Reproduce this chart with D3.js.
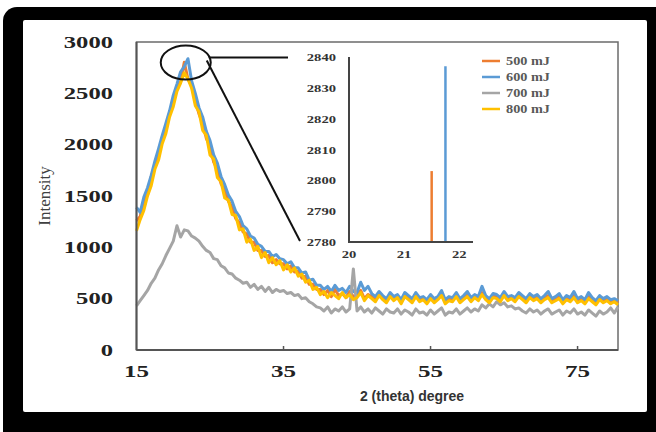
<!DOCTYPE html>
<html>
<head>
<meta charset="utf-8">
<script src="https://cdn.jsdelivr.net/npm/d3@7"></script>
<style>
  body { margin: 0; background: #fff; }
  svg { display: block; }
</style>
</head>
<body>
<div id="chart"></div>
<script>
// series, one value every 0.5 degree from 15 to 80.5
const seriesNames = ["500 mJ", "600 mJ", "700 mJ", "800 mJ"];
const seriesColors = ["#ED7D31", "#5B9BD5", "#A5A5A5", "#FFC000"];
const angleStart = 15, angleStep = 0.5;

const int500 = [
  1260, 1300, 1450, 1510, 1690, 1780, 1900, 2070, 2140, 2310,
  2400, 2560, 2610, 2803, 2640, 2570, 2430, 2300, 2210, 2060,
  1990, 1830, 1760, 1620, 1560, 1450, 1390, 1280, 1240, 1150,
  1130, 1050, 1050, 970, 970, 910, 920, 850, 880, 840,
  840, 790, 820, 760, 770, 700, 720, 640, 640, 590,
  590, 540, 580, 520, 590, 530, 550, 510, 570, 520,
  530, 580, 500, 540, 520, 490, 550, 510, 480, 540,
  500, 520, 470, 530, 510, 480, 540, 490, 500, 470,
  520, 480, 500, 540, 470, 500, 490, 530, 480, 510,
  540, 490, 520, 500, 560, 510, 480, 530, 520, 490,
  550, 500, 510, 490, 540, 510, 480, 530, 500, 520,
  480, 510, 530, 480, 500, 520, 470, 510, 490, 530,
  480, 500, 470, 520, 490, 460, 510, 480, 500, 470,
  490, 460
];
const int600 = [
  1390, 1340, 1490, 1580, 1700, 1840, 1960, 2090, 2210, 2330,
  2480, 2590, 2710, 2760, 2837, 2620, 2500, 2360, 2270, 2130,
  2040, 1900, 1820, 1690, 1610, 1510, 1450, 1350, 1300, 1210,
  1180, 1110, 1090, 1030, 1010, 960, 960, 910, 930, 890,
  880, 840, 860, 800, 800, 750, 760, 680, 690, 630,
  630, 590, 620, 570, 630, 580, 600, 560, 620, 570,
  560, 660, 580, 620, 550, 520, 570, 530, 500, 560,
  520, 540, 490, 560, 530, 500, 560, 510, 520, 490,
  540, 500, 520, 580, 490, 520, 510, 560, 500, 530,
  570, 510, 540, 520, 620, 530, 500, 550, 540, 510,
  570, 520, 530, 510, 560, 530, 500, 550, 520, 540,
  500, 530, 570, 500, 520, 550, 490, 530, 510, 570,
  500, 520, 490, 560, 510, 480, 530, 500, 520, 490,
  500, 480
];
const int700 = [
  430, 480, 530, 580, 650, 700, 780, 840, 920, 990,
  1060, 1210, 1100, 1170, 1160, 1110, 1090, 1060, 1010, 970,
  950, 890, 880, 820, 800, 750, 740, 700, 680, 650,
  660, 610, 640, 590, 620, 570, 610, 560, 590, 570,
  580, 550, 560, 530, 540, 500, 510, 470, 450, 420,
  410, 380, 420, 360, 400, 380, 420, 370, 400, 790,
  380, 420, 370, 400, 360, 410, 380, 350, 400, 370,
  360, 400, 350, 390, 370, 340, 400, 360, 370, 340,
  390, 350, 380, 410, 340, 370, 360, 400, 350, 380,
  410, 370, 400, 380, 440, 410, 450, 420, 470, 440,
  460, 420, 430, 400, 410, 380, 360, 400, 370, 390,
  350, 380, 400, 350, 370, 390, 340, 380, 360, 400,
  350, 370, 340, 390, 360, 330, 380, 350, 370, 410,
  360, 420
];
const int800 = [
  1160, 1270, 1360, 1500, 1600, 1760, 1850, 2010, 2110, 2270,
  2370, 2520, 2600, 2700, 2640, 2550, 2380, 2320, 2140, 2090,
  1900, 1860, 1680, 1640, 1480, 1460, 1320, 1310, 1170, 1180,
  1050, 1080, 970, 1010, 900, 950, 850, 900, 830, 870,
  780, 830, 760, 800, 720, 740, 660, 680, 590, 610,
  540, 570, 510, 560, 530, 500, 560, 510, 540, 490,
  510, 560, 480, 530, 500, 470, 530, 490, 460, 520,
  480, 510, 450, 520, 490, 460, 520, 470, 490, 450,
  500, 460, 490, 530, 450, 480, 470, 520, 460, 490,
  520, 470, 510, 480, 540, 490, 460, 510, 500, 470,
  530, 480, 500, 470, 520, 490, 460, 510, 480, 500,
  460, 490, 510, 460, 480, 500, 450, 490, 470, 510,
  460, 480, 450, 500, 470, 440, 490, 460, 480, 450,
  470, 440
];

const yTicks = [0, 500, 1000, 1500, 2000, 2500, 3000];
const xTicks = [15, 35, 55, 75];

// zoomed view of the peak
const insetSeries = ["500 mJ", "600 mJ"];
const insetAngles = [21.5, 21.75];
const insetPeaks = [2803, 2837];
const insetYTicks = [2780, 2790, 2800, 2810, 2820, 2830, 2840];
const insetXTicks = [20, 21, 22];

const W = 656, H = 432;
const svg = d3.select("#chart").append("svg")
    .attr("width", W)
    .attr("height", H);

// black frame around the picture
svg.append("rect").attr("x", 3).attr("y", 7).attr("width", 680).attr("height", 450)
    .attr("rx", 14).attr("fill", "#000");
svg.append("rect").attr("x", 23).attr("y", 20).attr("width", 624).attr("height", 392)
    .attr("rx", 2).attr("fill", "#fff");

const x = d3.scaleLinear().domain([15, 80.5]).range([136.5, 618]);
const y = d3.scaleLinear().domain([0, 3000]).range([350, 42]);

const serif = "'Liberation Serif', 'Times New Roman', serif";

// stretched bold digits like the picture
function stretch(sel, perChar) {
    sel.attr("textLength", d => String(d).length * perChar)
        .attr("lengthAdjust", "spacingAndGlyphs");
}

// plot border
svg.append("rect")
    .attr("x", x(15)).attr("y", y(3000))
    .attr("width", x(80.5) - x(15)).attr("height", y(0) - y(3000))
    .attr("fill", "none").attr("stroke", "#6b6b6b").attr("stroke-width", 1.5);

// series lines
const angles = int500.map((d, i) => angleStart + i * angleStep);
const allSeries = [int500, int600, int700, int800];
const line = d3.line()
    .x((d, i) => x(angles[i]))
    .y(d => y(d));

svg.append("g").selectAll("path")
    .data(allSeries)
    .enter().append("path")
    .attr("d", d => line(d))
    .attr("fill", "none")
    .attr("stroke", (d, i) => seriesColors[i])
    .attr("stroke-width", 3)
    .attr("stroke-linejoin", "round");

// axes lines + ticks
svg.append("line")
    .attr("x1", x(15)).attr("x2", x(80.5)).attr("y1", y(0)).attr("y2", y(0))
    .attr("stroke", "#555").attr("stroke-width", 2);
svg.append("line")
    .attr("x1", x(15)).attr("x2", x(15)).attr("y1", y(0)).attr("y2", y(3000))
    .attr("stroke", "#555").attr("stroke-width", 2);

svg.append("g").selectAll("line")
    .data(xTicks.slice(1))
    .enter().append("line")
    .attr("x1", d => x(d)).attr("x2", d => x(d))
    .attr("y1", y(0)).attr("y2", y(0) - 4)
    .attr("stroke", "#555").attr("stroke-width", 1.5);

svg.append("g").selectAll("text")
    .data(xTicks)
    .enter().append("text")
    .attr("x", d => x(d))
    .attr("y", 377)
    .attr("text-anchor", "middle")
    .attr("font-family", serif)
    .attr("font-weight", "bold")
    .attr("font-size", 16)
    .attr("fill", "#222")
    .text(d => d)
    .call(stretch, 12.5);

svg.append("g").selectAll("text")
    .data(yTicks)
    .enter().append("text")
    .attr("x", 113)
    .attr("y", d => y(d) + 5.5)
    .attr("text-anchor", "end")
    .attr("font-family", serif)
    .attr("font-weight", "bold")
    .attr("font-size", 16)
    .attr("fill", "#222")
    .text(d => d)
    .call(stretch, 12.3);

svg.append("text")
    .attr("transform", "translate(50,196) rotate(-90)")
    .attr("text-anchor", "middle")
    .attr("font-family", serif)
    .attr("font-size", 17)
    .attr("fill", "#404040")
    .text("Intensity");

svg.append("text")
    .attr("x", 412)
    .attr("y", 401)
    .attr("text-anchor", "middle")
    .attr("font-family", "'Liberation Sans', Arial, sans-serif")
    .attr("font-weight", "bold")
    .attr("font-size", 14)
    .attr("fill", "#333")
    .text("2 (theta) degree");

// inset
const ix = d3.scaleLinear().domain([20, 22.25]).range([349, 473]);
const iy = d3.scaleLinear().domain([2780, 2840]).range([242, 57]);

svg.append("g").selectAll("line")
    .data(insetPeaks)
    .enter().append("line")
    .attr("x1", (d, i) => ix(insetAngles[i])).attr("x2", (d, i) => ix(insetAngles[i]))
    .attr("y1", iy(2780)).attr("y2", d => iy(d))
    .attr("stroke", (d, i) => seriesColors[seriesNames.indexOf(insetSeries[i])])
    .attr("stroke-width", 2.5);

svg.append("path")
    .attr("d", "M" + ix(20) + "," + iy(2840) + "V" + iy(2780) + "H" + ix(22.25))
    .attr("fill", "none").attr("stroke", "#444").attr("stroke-width", 2);

svg.append("g").selectAll("text")
    .data(insetYTicks)
    .enter().append("text")
    .attr("x", 336)
    .attr("y", d => iy(d) + 4)
    .attr("text-anchor", "end")
    .attr("font-family", serif)
    .attr("font-weight", "bold")
    .attr("font-size", 11)
    .attr("fill", "#333")
    .text(d => d)
    .call(stretch, 7.3);

svg.append("g").selectAll("text")
    .data(insetXTicks)
    .enter().append("text")
    .attr("x", d => ix(d))
    .attr("y", 258)
    .attr("text-anchor", "middle")
    .attr("font-family", serif)
    .attr("font-weight", "bold")
    .attr("font-size", 11)
    .attr("fill", "#333")
    .text(d => d)
    .call(stretch, 7.3);

// zoom callout: ellipse round the peak and two leader lines
const cx = x(21.7), cy = y(2800);
svg.append("ellipse")
    .attr("cx", cx).attr("cy", cy).attr("rx", 25).attr("ry", 17)
    .attr("fill", "none").attr("stroke", "#111").attr("stroke-width", 2);
svg.append("line")
    .attr("x1", cx + 23).attr("y1", cy - 5).attr("x2", ix(20) - 61).attr("y2", cy - 5)
    .attr("stroke", "#111").attr("stroke-width", 2);
svg.append("line")
    .attr("x1", cx + 21).attr("y1", cy - 2).attr("x2", ix(20) - 49).attr("y2", iy(2780) - 1)
    .attr("stroke", "#111").attr("stroke-width", 2);

// legend
const legend = svg.append("g").selectAll("g")
    .data(seriesNames)
    .enter().append("g")
    .attr("transform", (d, i) => "translate(482," + (61 + i * 16) + ")");
legend.append("line")
    .attr("x1", 0).attr("x2", 18)
    .attr("stroke", (d, i) => seriesColors[i]).attr("stroke-width", 2.5);
legend.append("text")
    .attr("x", 24).attr("y", 4)
    .attr("font-family", serif)
    .attr("font-weight", "bold")
    .attr("font-size", 12.5)
    .attr("fill", "#595959")
    .text(d => d)
    .attr("textLength", 44)
    .attr("lengthAdjust", "spacingAndGlyphs");
</script>
</body>
</html>
